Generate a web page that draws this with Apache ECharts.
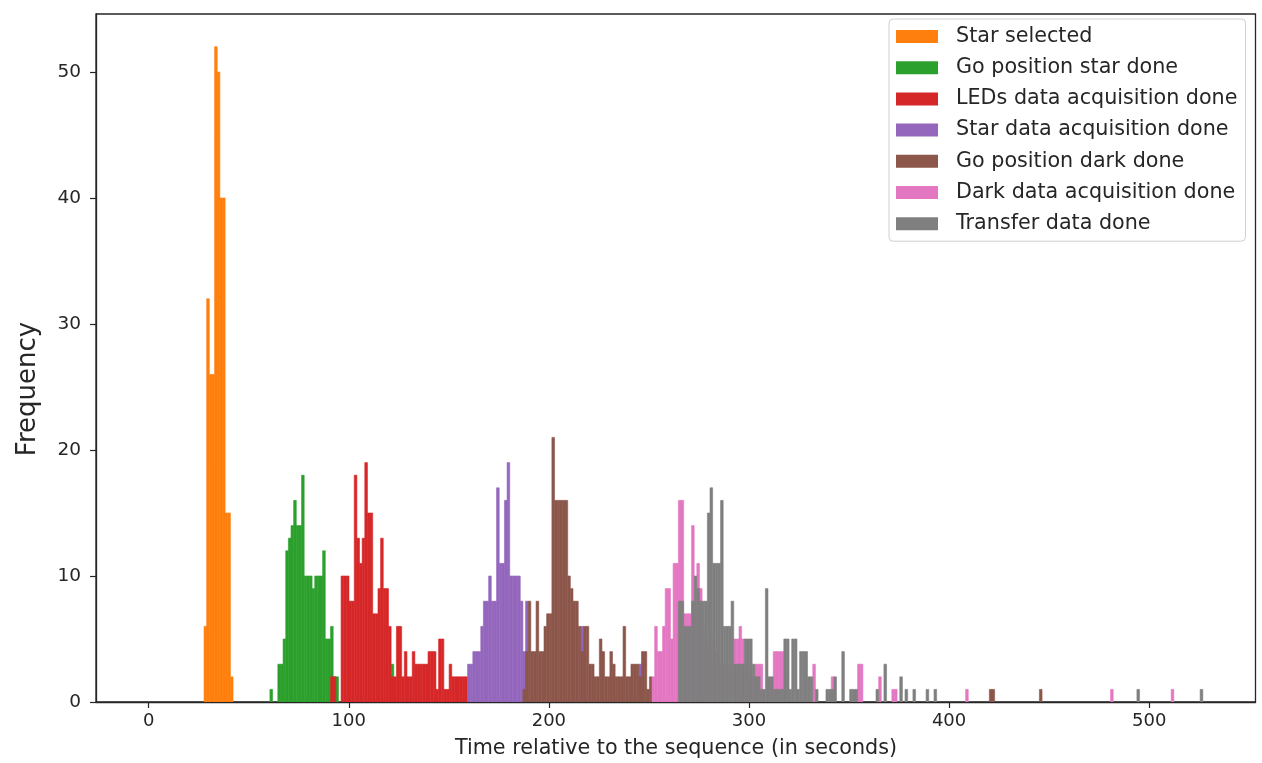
<!DOCTYPE html>
<html>
<head>
<meta charset="utf-8">
<script src="https://cdn.jsdelivr.net/npm/echarts@6/dist/echarts.min.js"></script>
<style>
  html, body { margin: 0; padding: 0; background: #fff; }
  #chart { width: 1262px; height: 763px; }
</style>
</head>
<body>
<div id="chart"></div>
<script>
// Histogram bins shared by every event: 400 equal bins over [0, 526.8] s
const HIST_RANGE = [0, 526.8];
const BIN_COUNT = 400;

const xTicks = [0, 100, 200, 300, 400, 500];
const yTicks = [0, 10, 20, 30, 40, 50];

const seriesNames = [
  'Star selected',
  'Go position star done',
  'LEDs data acquisition done',
  'Star data acquisition done',
  'Go position dark done',
  'Dark data acquisition done',
  'Transfer data done'
];
const seriesColors = ['#ff7f0e', '#2ca02c', '#d62728', '#9467bd', '#8c564b', '#e377c2', '#7f7f7f'];

// Counts per bin; the first count belongs to bin index *Start.
// *Tail lists isolated bins as [binIndex, count].
const starSelectedStart = 21;
const starSelected = [6, 32, 26, 26, 52, 50, 40, 40, 15, 15, 2];
const starSelectedTail = [];

const goStarStart = 46;
const goStar = [1, 0, 0, 3, 3, 5, 12, 13, 14, 16, 14, 14, 18, 10, 10, 10, 9, 10, 10, 10, 12, 5, 5, 6, 2, 2];
const goStarTail = [[92, 3]];

const ledsStart = 69;
const leds = [2, 2, 0, 0, 10, 10, 10, 8, 8, 18, 13, 11, 13, 19, 15, 15, 7, 7, 9, 13,
              9, 9, 6, 2, 2, 6, 6, 2, 4, 2, 2, 4, 3, 3, 3, 3, 3, 4, 4, 4,
              1, 5, 5, 1, 1, 3, 2, 2, 2, 2, 2, 2];
const ledsTail = [];

const starDataStart = 121;
const starData = [3, 3, 4, 4, 4, 6, 8, 8, 10, 8, 8, 17, 11, 11, 16, 19, 10, 10, 10, 10, 8, 4, 8];
const starDataTail = [[164, 6], [186, 3]];

const goDarkStart = 142;
const goDark = [1, 4, 8, 4, 4, 8, 4, 4, 6, 7, 7, 21, 16, 16, 16, 16, 16, 10, 9, 8,
                8, 6, 4, 6, 6, 3, 3, 2, 2, 5, 4, 2, 2, 4, 3, 2, 2, 2, 6, 2,
                2, 3, 3, 3, 2, 4, 4, 1, 2];
const goDarkTail = [[319, 1], [320, 1], [338, 1]];

const darkDataStart = 191;
const darkData = [2, 6, 4, 4, 6, 9, 9, 5, 11, 11, 16, 16, 7, 7, 7, 14, 7, 11, 9, 6,
                  5, 4, 5, 3, 4, 3, 3, 3, 2, 3, 2, 5, 5, 6, 5, 3, 2, 2, 2, 3,
                  3, 3, 0, 0, 1, 1, 4, 4, 4, 4, 2];
const darkDataTail = [[252, 3], [259, 2], [269, 3], [270, 3], [277, 2], [282, 1], [283, 1],
                      [310, 1], [365, 1], [388, 1]];

const transferStart = 201;
const transfer = [8, 8, 6, 6, 6, 8, 10, 9, 8, 8, 8, 15, 17, 11, 11, 11, 16, 6, 6, 6,
                  8, 3, 3, 3, 3, 5, 5, 5, 3, 2, 2, 1, 1, 9, 2, 2, 1, 1, 1, 1,
                  5, 5, 1, 5, 5, 1, 4, 4, 4, 2, 2, 0, 1];
const transferTail = [[257, 1], [258, 1], [259, 1], [260, 2], [263, 4], [266, 1], [267, 1], [268, 1],
                      [276, 1], [279, 3], [285, 2], [287, 1], [290, 1], [295, 1], [298, 1],
                      [375, 1], [399, 1]];

const BIN_WIDTH = (HIST_RANGE[1] - HIST_RANGE[0]) / BIN_COUNT;

function binBar(index, count) {
  const x0 = HIST_RANGE[0] + index * BIN_WIDTH;
  return [x0, x0 + BIN_WIDTH, count];
}

function buildBars(start, counts, tail) {
  const bars = [];
  counts.forEach((c, k) => { if (c > 0) bars.push(binBar(start + k, c)); });
  tail.forEach(([idx, c]) => { if (c > 0) bars.push(binBar(idx, c)); });
  return bars;
}

const histograms = [
  buildBars(starSelectedStart, starSelected, starSelectedTail),
  buildBars(goStarStart, goStar, goStarTail),
  buildBars(ledsStart, leds, ledsTail),
  buildBars(starDataStart, starData, starDataTail),
  buildBars(goDarkStart, goDark, goDarkTail),
  buildBars(darkDataStart, darkData, darkDataTail),
  buildBars(transferStart, transfer, transferTail)
];

function renderBin(params, api) {
  const topLeft = api.coord([api.value(0), api.value(2)]);
  const bottomRight = api.coord([api.value(1), 0]);
  const color = api.visual('color');
  return {
    type: 'rect',
    shape: {
      x: topLeft[0],
      y: topLeft[1],
      width: bottomRight[0] - topLeft[0],
      height: bottomRight[1] - topLeft[1]
    },
    style: { fill: color, stroke: color, lineWidth: 0.6 }
  };
}

const FONT = 'DejaVu Sans';
const TEXT = '#262626';

// x range padded by 5% of the bin span, y by 5% of the tallest bin
const xPad = 0.05 * (HIST_RANGE[1] - HIST_RANGE[0]);
const yMax = 54.6;

const chart = echarts.init(document.getElementById('chart'), null, { renderer: 'canvas' });

chart.setOption({
  backgroundColor: '#ffffff',
  animation: false,
  color: seriesColors,
  grid: {
    left: 96, right: 6.5, top: 14, bottom: 61,
    show: true, borderColor: '#262626', borderWidth: 1.3, backgroundColor: 'transparent'
  },
  xAxis: {
    type: 'value',
    min: HIST_RANGE[0] - xPad,
    max: HIST_RANGE[1] + xPad,
    axisLine: { show: true, onZero: false, lineStyle: { color: '#262626', width: 1.3 } },
    axisTick: { show: true, customValues: xTicks, length: 6, lineStyle: { color: '#262626', width: 1.2 } },
    axisLabel: { customValues: xTicks, fontFamily: FONT, fontSize: 18, color: TEXT, margin: 10 },
    splitLine: { show: false }
  },
  yAxis: {
    type: 'value',
    min: 0,
    max: yMax,
    axisLine: { show: true, onZero: false, lineStyle: { color: '#262626', width: 1.3 } },
    axisTick: { show: true, customValues: yTicks, length: 6, lineStyle: { color: '#262626', width: 1.2 } },
    axisLabel: { customValues: yTicks, fontFamily: FONT, fontSize: 18.5, color: TEXT, margin: 15 },
    splitLine: { show: false }
  },
  legend: {
    orient: 'vertical',
    left: 889, top: 19,
    padding: [6, 8, 6, 7],
    backgroundColor: '#ffffff',
    borderColor: '#d0d0d0',
    borderWidth: 1,
    borderRadius: 4,
    itemWidth: 42,
    itemHeight: 13,
    itemGap: 8.2,
    icon: 'rect',
    data: seriesNames,
    textStyle: { fontFamily: FONT, fontSize: 20.7, color: TEXT, lineHeight: 23, padding: [0, 0, 0, 13] }
  },
  graphic: [
    {
      type: 'text',
      x: 28, y: 389,
      rotation: Math.PI / 2,
      style: { text: 'Frequency', fontFamily: FONT, fontSize: 26, fill: TEXT, align: 'center', verticalAlign: 'middle' }
    },
    {
      type: 'text',
      x: 676, y: 749,
      style: { text: 'Time relative to the sequence (in seconds)', fontFamily: FONT, fontSize: 20.7, fill: TEXT, align: 'center', verticalAlign: 'middle' }
    }
  ],
  series: seriesNames.map((name, i) => ({
    type: 'custom',
    name: name,
    renderItem: renderBin,
    encode: { x: [0, 1], y: 2 },
    clip: true,
    itemStyle: { color: seriesColors[i] },
    data: histograms[i]
  }))
});
</script>
</body>
</html>
